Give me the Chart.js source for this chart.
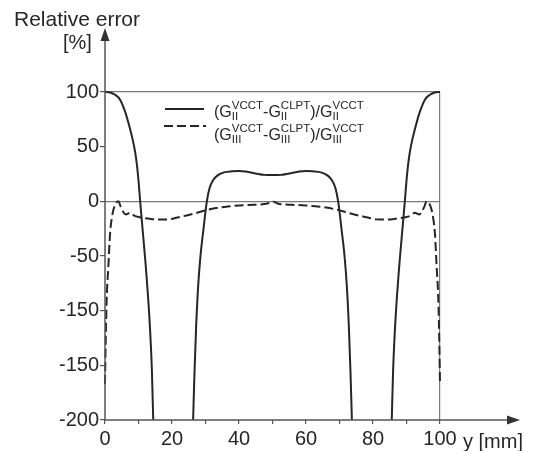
<!DOCTYPE html>
<html>
<head>
<meta charset="utf-8">
<script src="https://cdn.jsdelivr.net/npm/chart.js@4.4.1/dist/chart.umd.min.js"></script>
<style>
  html, body { margin: 0; padding: 0; background: #fff; }
  #wrap { width: 533px; height: 451px; }
</style>
</head>
<body>
<div id="wrap"><canvas id="errorChart" width="533" height="451"></canvas></div>
<script>
// values, y in mm, error in %
const solidLeftX = [0, 1.5, 3, 4.5, 6, 7.5, 8.3, 9, 9.5, 10, 10.5, 11, 12, 13, 13.5, 14, 14.4];
const solidLeftY = [100, 99.5, 97.5, 93, 82, 66, 56, 45, 34, 19, 0, -18, -53, -94, -120, -155, -200];
const solidMidX = [26.3, 26.7, 27.2, 27.8, 28.5, 29.3, 30.4, 31.2, 32.2, 33.5, 35.5, 38, 40, 42, 45, 47.5, 50,
                   52.5, 55, 58, 60, 62, 64.5, 66.5, 67.8, 68.8, 69.6, 70.7, 71.5, 72.2, 72.8, 73.3, 73.7];
const solidMidY = [-200, -158, -115, -78, -50, -28, 0, 12, 19, 23.5, 26.5, 27.5, 27.7, 27.2, 25.5, 24.2, 24,
                   24.2, 25.5, 27.2, 27.7, 27.5, 26.5, 23.5, 19, 12, 0, -28, -50, -78, -115, -158, -200];
const solidRightX = [85.6, 86, 86.5, 87, 88, 89, 89.5, 90, 90.5, 91, 91.7, 92.5, 94, 95.5, 97, 98.5, 100];
const solidRightY = [-200, -155, -120, -94, -53, -18, 0, 19, 34, 45, 56, 66, 82, 93, 97.5, 99.5, 100];

const dashedX = [0, 0.2, 0.5, 1, 1.5, 2, 2.5, 3.3, 4, 4.7, 5.5, 6.2, 7.5, 8.7, 10.4, 13.4, 16, 19, 22, 25, 28, 31, 34, 37, 40, 43, 46, 48.5, 50,
                 51.5, 54, 57, 60, 63, 66, 69, 72, 75, 78, 81, 84, 86.6, 89.6, 91.3, 92.5, 93.8, 94.5, 95.3, 96, 96.7, 97.5, 98, 98.5, 99, 99.5, 99.8, 100];
const dashedY = [-167, -130, -90, -60, -30, -16, -8, -1.5, 0, -5, -10, -12, -10.5, -13, -14.5, -16, -16.7, -16.5, -14.5, -12.5, -10, -7.5, -5.7, -4.6, -3.8, -3.3, -3, -2, 0,
                 -2, -3, -3.3, -3.8, -4.6, -5.7, -7.5, -10, -12.5, -14.5, -16.5, -16.7, -16, -14.5, -13, -10.5, -12, -10, -5, 0, -1.5, -8, -16, -30, -60, -90, -130, -167];

const xTickLabels = ['0', '20', '40', '60', '80', '100'];
const yTickValues = [100, 50, 0, -50, -100, -150, -200];
const yTickLabels = ['100', '50', '0', '-50', '-150', '-150', '-200'];

const FONT = 'Liberation Sans, Arial, Helvetica, sans-serif';
const INK = '#262626';

function toPoints(xs, ys) {
    return xs.map((x, i) => ({ x: x, y: ys[i] }));
}

// one dataset, branches split by a gap
const solidData = toPoints(solidLeftX, solidLeftY)
    .concat([{ x: 20, y: null }])
    .concat(toPoints(solidMidX, solidMidY))
    .concat([{ x: 80, y: null }])
    .concat(toPoints(solidRightX, solidRightY));

const dashedData = toPoints(dashedX, dashedY);

// axes with arrows, axis titles and the legend with indices
const drawExtras = {
    id: 'drawExtras',
    afterDatasetsDraw(chart) {
        const ctx = chart.ctx;
        const xs = chart.scales.x;
        const ys = chart.scales.y;
        const x0 = xs.getPixelForValue(0);
        const yBottom = ys.getPixelForValue(-200);
        ctx.save();

        // axes
        ctx.strokeStyle = '#555';
        ctx.fillStyle = '#333';
        ctx.lineWidth = 1.5;
        ctx.beginPath();
        ctx.moveTo(x0, yBottom);
        ctx.lineTo(x0, 36);
        ctx.moveTo(x0, yBottom);
        ctx.lineTo(512, yBottom);
        ctx.stroke();

        ctx.beginPath();
        ctx.moveTo(x0, 28);
        ctx.lineTo(x0 - 4.5, 41);
        ctx.lineTo(x0 + 4.5, 41);
        ctx.closePath();
        ctx.fill();
        ctx.beginPath();
        ctx.moveTo(520, yBottom);
        ctx.lineTo(507, yBottom - 4.5);
        ctx.lineTo(507, yBottom + 4.5);
        ctx.closePath();
        ctx.fill();

        // axis titles
        ctx.fillStyle = INK;
        ctx.textBaseline = 'alphabetic';
        ctx.textAlign = 'left';
        ctx.font = '21px ' + FONT;
        ctx.fillText('Relative error', 14, 26);
        ctx.font = '20px ' + FONT;
        ctx.fillText('[%]', 63, 49);
        ctx.fillText('y [mm]', 463, 448);

        // legend
        ctx.strokeStyle = INK;
        ctx.lineWidth = 2;
        ctx.beginPath();
        ctx.moveTo(165, 109);
        ctx.lineTo(204, 109);
        ctx.stroke();
        ctx.setLineDash([9, 4]);
        ctx.beginPath();
        ctx.moveTo(164, 126);
        ctx.lineTo(206, 126);
        ctx.stroke();
        ctx.setLineDash([]);

        drawLegendText(ctx, 214, 116.5, 'II');
        drawLegendText(ctx, 214, 139.5, 'III');
        ctx.restore();
    }
};

function drawLegendText(ctx, x, base, sub) {
    const main = '16px ' + FONT;
    const small = '11.5px ' + FONT;
    const parts = [['(G', 'VCCT'], ['-G', 'CLPT'], [')/G', 'VCCT']];
    ctx.fillStyle = INK;
    ctx.textAlign = 'left';
    ctx.textBaseline = 'alphabetic';
    parts.forEach(p => {
        ctx.font = main;
        ctx.fillText(p[0], x, base);
        x += ctx.measureText(p[0]).width;
        ctx.font = small;
        ctx.fillText(p[1], x, base - 7.5);
        ctx.fillText(sub, x, base + 3.5);
        x += Math.max(ctx.measureText(p[1]).width, ctx.measureText(sub).width);
    });
}

new Chart(document.getElementById('errorChart'), {
    type: 'line',
    data: {
        datasets: [
            {
                label: '(G_II^VCCT-G_II^CLPT)/G_II^VCCT',
                data: solidData,
                borderColor: INK,
                borderWidth: 2,
                pointRadius: 0,
                cubicInterpolationMode: 'monotone',
                spanGaps: false,
                clip: 3
            },
            {
                label: '(G_III^VCCT-G_III^CLPT)/G_III^VCCT',
                data: dashedData,
                borderColor: INK,
                borderWidth: 2,
                borderDash: [9, 4],
                pointRadius: 0,
                cubicInterpolationMode: 'monotone',
                clip: 3
            }
        ]
    },
    options: {
        responsive: false,
        animation: false,
        layout: { padding: { left: 0, top: 92, right: 93, bottom: 0 } },
        plugins: {
            legend: { display: false },
            tooltip: { enabled: false }
        },
        scales: {
            x: {
                type: 'linear',
                min: 0,
                max: 100,
                afterFit: (scale) => { scale.height = 31; },
                border: { display: false },
                grid: {
                    drawOnChartArea: true,
                    color: (c) => (c.tick && c.tick.value === 100) ? '#7a7a7a' : 'rgba(0,0,0,0)',
                    tickColor: '#555',
                    tickLength: 4,
                    lineWidth: 1.2
                },
                ticks: {
                    stepSize: 10,
                    autoSkip: false,
                    maxRotation: 0,
                    padding: 3,
                    color: INK,
                    font: { family: FONT, size: 20 },
                    callback: (v) => (v % 20 === 0) ? xTickLabels[v / 20] : ''
                }
            },
            y: {
                min: -200,
                max: 100,
                afterFit: (scale) => { scale.width = 105; },
                border: { display: false },
                grid: {
                    drawOnChartArea: true,
                    color: (c) => (c.tick && (c.tick.value === 0 || c.tick.value === 100)) ? '#7a7a7a' : 'rgba(0,0,0,0)',
                    tickColor: '#555',
                    tickLength: 5,
                    lineWidth: 1.2
                },
                ticks: {
                    stepSize: 50,
                    autoSkip: false,
                    padding: 1,
                    color: INK,
                    font: { family: FONT, size: 20 },
                    callback: (v) => yTickLabels[yTickValues.indexOf(v)]
                }
            }
        }
    },
    plugins: [drawExtras]
});
</script>
</body>
</html>
